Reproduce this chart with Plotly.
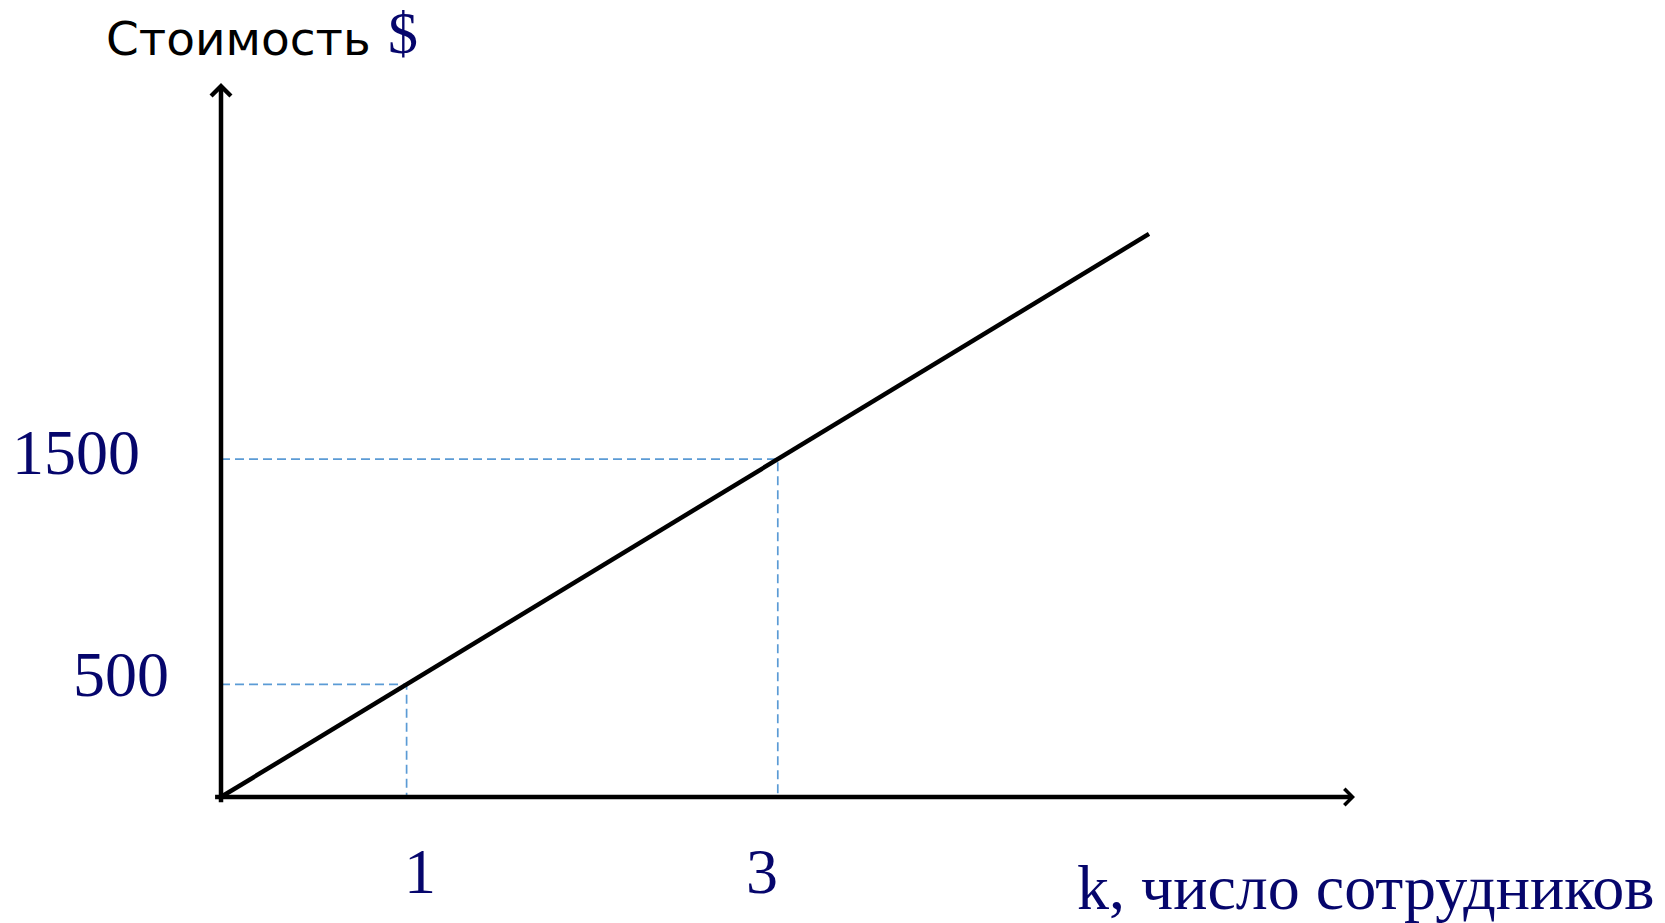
import plotly.graph_objects as go

# ---- data ----
k_values = [0, 5]              # число сотрудников (line endpoints)
cost_values = [0, 2500]        # стоимость, $
marked_k = [1, 3]
marked_cost = [500, 1500]
x_tick_labels = ["1", "3"]
y_tick_labels = ["500", "1500"]
x_max = 6.11
y_max = 3170

NAVY = "#06066c"
BLUE = "#5b9bd5"
SERIF = "Liberation Serif, Times New Roman, serif"

W, H = 1665, 923
ML, MR, MT, MB = 221, 310, 83, 126
PW = W - ML - MR
PH = H - MT - MB


def px(xp):
    return (xp - ML) / PW


def py(yp):
    return (H - MB - yp) / PH


fig = go.Figure()

# dashed guide lines
for k, c in zip(marked_k, marked_cost):
    fig.add_trace(go.Scatter(
        x=[0, k, k], y=[c, c, 0], mode="lines",
        line=dict(color=BLUE, width=1.7, dash="9px,5px"),
        hoverinfo="skip", showlegend=False))

# main line
fig.add_trace(go.Scatter(
    x=k_values, y=cost_values, mode="lines",
    line=dict(color="black", width=4.5),
    showlegend=False))

annotations = []
# axes as arrows
annotations.append(dict(x=x_max, y=0, ax=-0.04, ay=0, xref="x", yref="y",
                        axref="x", ayref="y", text="", showarrow=True,
                        arrowhead=4, arrowwidth=4.5, arrowsize=0.7,
                        arrowcolor="black"))
annotations.append(dict(x=0, y=y_max, ax=0, ay=-30, xref="x", yref="y",
                        axref="x", ayref="y", text="", showarrow=True,
                        arrowhead=4, arrowwidth=4.5, arrowsize=0.85,
                        arrowcolor="black"))

# x tick labels
x_shifts = [13, -16]
for k, lab, sh in zip(marked_k, x_tick_labels, x_shifts):
    annotations.append(dict(x=k, y=py(871), xref="x", yref="paper",
                            text=lab, showarrow=False, xshift=sh,
                            xanchor="center", yanchor="middle",
                            font=dict(family=SERIF, size=64, color=NAVY)))

# y tick labels
y_right = [171, 142]
y_shifts = [10, 7]
for c, lab, r, sh in zip(marked_cost, y_tick_labels, y_right, y_shifts):
    annotations.append(dict(x=px(r), y=c, xref="paper", yref="y",
                            text=lab, showarrow=False, yshift=sh,
                            xanchor="right", yanchor="middle",
                            font=dict(family=SERIF, size=64, color=NAVY)))

# axis titles
annotations.append(dict(x=px(104), y=py(38), xref="paper", yref="paper",
                        text="Стоимость", showarrow=False,
                        xanchor="left", yanchor="middle",
                        font=dict(family="DejaVu Sans, Arial, sans-serif",
                                  size=47, color="black")))
annotations.append(dict(x=px(403), y=py(33), xref="paper", yref="paper",
                        text="$", showarrow=False,
                        xanchor="center", yanchor="middle",
                        font=dict(family=SERIF, size=60, color=NAVY)))
annotations.append(dict(x=px(1656), y=py(887), xref="paper", yref="paper",
                        text="k, число сотрудников", showarrow=False,
                        xanchor="right", yanchor="middle",
                        font=dict(family=SERIF, size=64, color=NAVY)))

fig.update_layout(
    width=W, height=H, autosize=False,
    margin=dict(l=ML, r=MR, t=MT, b=MB, pad=0),
    paper_bgcolor="white", plot_bgcolor="white",
    showlegend=False,
    annotations=annotations,
    xaxis=dict(range=[0, x_max], showgrid=False, zeroline=False,
               showline=False, showticklabels=False, ticks=""),
    yaxis=dict(range=[0, y_max], showgrid=False, zeroline=False,
               showline=False, showticklabels=False, ticks=""),
)

fig.write_html("out.html", config={"displayModeBar": False},
               post_script="document.body.style.margin='0';"
                           "document.body.style.overflow='hidden';")
